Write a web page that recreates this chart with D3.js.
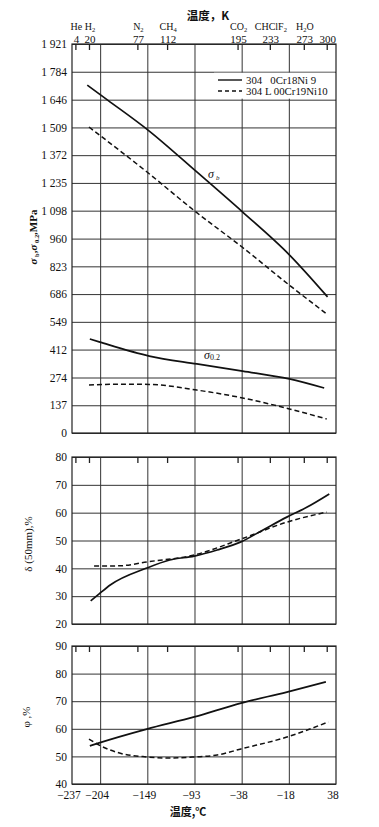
<!DOCTYPE html>
<html>
<head>
<meta charset="utf-8">
<script src="https://cdn.jsdelivr.net/npm/d3@7"></script>
<style>
  body { margin: 0; background: #fff; }
  svg text { font-family: "Liberation Serif", "DejaVu Serif", serif; fill: #111; }
  svg text.cjk { font-family: "Noto Sans CJK SC", sans-serif; }
</style>
</head>
<body>
<div class="chart"></div>
<script>
// temperatures stored in kelvin, the chart's x axis is linear in temperature
var kelvinTicks = [4, 20, 77, 112, 195, 233, 273, 300];
var gasNames = [["He", ""], ["H", "2"], ["N", "2"], ["CH", "4"], ["CO", "2"], ["CHClF", "2"], ["H", "2", "O"], null];

// bottom grid in °F (labels as printed)
var gridF = [-459.67, -400, -300, -200, -100, 0, 100];
var gridLabels = ["\u2212237", "\u2212204", "\u2212149", "\u221293", "\u221238", "\u221218", "38"];

var strengthTicks = [0, 137, 274, 412, 549, 686, 823, 960, 1098, 1235, 1372, 1509, 1646, 1784, 1921];
var elongTicks = [20, 30, 40, 50, 60, 70, 80];
var reductTicks = [40, 50, 60, 70, 80, 90];

// sigma_b
var sbK_304 = [18, 42, 91, 147, 201, 256, 301];
var sb_304 = [1718, 1644, 1491, 1289, 1091, 880, 672];
var sbK_304L = [20, 88, 147, 201, 256, 300];
var sb_304L = [1511, 1290, 1088, 916, 730, 588];
// sigma_0.2
var s02K_304 = [21, 32, 91, 147, 201, 256, 297];
var s02_304 = [464, 450, 380, 341, 306, 267, 222];
var s02K_304L = [20, 56, 91, 147, 201, 256, 300];
var s02_304L = [237, 241, 240, 212, 173, 119, 69];
// delta (50mm)
var dK_304 = [22, 32, 45, 88, 115, 144, 171, 199, 225, 253, 277, 303];
var d_304 = [28.3, 30.8, 34, 40.1, 43, 44.4, 46.6, 49.5, 53.8, 58.4, 62, 66.7];
var dK_304L = [26, 56, 88, 144, 199, 253, 300];
var d_304L = [40.8, 40.9, 42.3, 44.8, 50.5, 56.6, 60.2];
// phi
var pK_304 = [21, 32, 88, 144, 199, 253, 299];
var p_304 = [53.8, 54.9, 59.9, 64.3, 69.3, 73.3, 77];
var pK_304L = [20, 32, 56, 88, 115, 144, 171, 199, 253, 302];
var p_304L = [56.3, 54.1, 51.2, 49.8, 49.4, 49.8, 50.5, 52.7, 57, 62.5];

var width = 379, height = 827;
var left = 72, right = 336;

function fToK(f) { return (f + 459.67) * 5 / 9; }

var x = d3.scaleLinear()
  .domain([fToK(gridF[0]), fToK(gridF[gridF.length - 1])])
  .range([left, right]);

var panels = [
  {top: 44, bottom: 433, domain: [0, 1921], ticks: strengthTicks,
   series: [[sbK_304, sb_304, false], [sbK_304L, sb_304L, true], [s02K_304, s02_304, false], [s02K_304L, s02_304L, true]]},
  {top: 457, bottom: 624, domain: [20, 80], ticks: elongTicks,
   series: [[dK_304, d_304, false], [dK_304L, d_304L, true]]},
  {top: 646, bottom: 784, domain: [40, 90], ticks: reductTicks,
   series: [[pK_304, p_304, false], [pK_304L, p_304L, true]]}
];

var svg = d3.select(".chart").append("svg")
  .attr("width", width)
  .attr("height", height);

var fmt = function(d) {
  return d >= 1000 ? String(d).slice(0, 1) + " " + String(d).slice(1) : String(d);
};

panels.forEach(function(p, i) {
  var y = d3.scaleLinear().domain(p.domain).range([p.bottom, p.top]);
  p.y = y;
  var h = p.bottom - p.top;
  var g = svg.append("g");

  // horizontal grid + labels
  var gy = g.append("g")
    .attr("transform", "translate(" + left + ",0)")
    .call(d3.axisLeft(y).tickValues(p.ticks).tickSize(-(right - left)).tickPadding(5).tickFormat(fmt));
  gy.attr("font-family", null);
  gy.select(".domain").remove();
  gy.selectAll(".tick line").attr("stroke", "#333").attr("stroke-width", 1);
  gy.selectAll(".tick text").attr("font-size", 11.5).attr("fill", "#111");

  // vertical grid
  var gx = g.append("g")
    .attr("transform", "translate(0," + p.bottom + ")")
    .call(d3.axisBottom(x).tickValues(gridF.slice(1, -1).map(fToK)).tickSize(-h).tickFormat(""));
  gx.select(".domain").remove();
  gx.selectAll(".tick line").attr("stroke", "#333").attr("stroke-width", 1);

  // kelvin ticks hanging from the top edge
  var gk = g.append("g")
    .attr("transform", "translate(0," + p.top + ")")
    .call(d3.axisBottom(x).tickValues(kelvinTicks).tickSize(6).tickFormat(""));
  gk.select(".domain").remove();
  gk.selectAll(".tick line").attr("stroke", "#222").attr("stroke-width", 1.3);

  // frame
  g.append("rect")
    .attr("x", left).attr("y", p.top)
    .attr("width", right - left).attr("height", h)
    .attr("fill", "none").attr("stroke", "#222").attr("stroke-width", 1.2);
});

// legend box (covers grid)
var legend = svg.append("g");
legend.append("rect")
  .attr("x", 214).attr("y", panels[0].y(1784) + 1)
  .attr("width", right - 215).attr("height", panels[0].y(1646) - panels[0].y(1784) - 2)
  .attr("fill", "#fff");
[["304   0Cr18Ni 9", false], ["304 L 00Cr19Ni10", true]].forEach(function(d, i) {
  var ly = 80 + i * 11;
  legend.append("line")
    .attr("x1", 218).attr("x2", 242).attr("y1", ly).attr("y2", ly)
    .attr("stroke", "#111").attr("stroke-width", 1.4)
    .attr("stroke-dasharray", d[1] ? "4,3" : null);
  legend.append("text")
    .attr("x", 246).attr("y", ly + 4)
    .attr("font-size", 10.8)
    .style("white-space", "pre")
    .text(d[0]);
});

// curves
var line = d3.line()
  .curve(d3.curveMonotoneX)
  .x(function(d) { return x(d[0]); });

panels.forEach(function(p) {
  line.y(function(d) { return p.y(d[1]); });
  p.series.forEach(function(s) {
    var pts = s[0].map(function(k, j) { return [k, s[1][j]]; });
    svg.append("path")
      .attr("d", line(pts))
      .attr("fill", "none")
      .attr("stroke", "#111")
      .attr("stroke-width", s[2] ? 1.5 : 1.7)
      .attr("stroke-dasharray", s[2] ? "5,3" : null);
  });
});

// curve annotations
var sb = svg.append("text").attr("x", 208).attr("y", 178).attr("font-size", 12).attr("font-style", "italic");
sb.append("tspan").text("σ");
sb.append("tspan").attr("font-size", 7).attr("dy", 2).attr("dx", 2).text("b");
var s02 = svg.append("text").attr("x", 204).attr("y", 359).attr("font-size", 12).attr("font-style", "italic");
s02.append("tspan").text("σ");
s02.append("tspan").attr("font-size", 8).attr("font-style", "normal").attr("dy", 1).text("0.2");

// top kelvin labels
var topG = svg.append("g");
kelvinTicks.forEach(function(k, i) {
  topG.append("text")
    .attr("x", x(k) + 1).attr("y", 43)
    .attr("text-anchor", "middle")
    .attr("font-size", 11)
    .text(k);
  var gas = gasNames[i];
  if (gas) {
    var t = topG.append("text")
      .attr("x", x(k) + 1).attr("y", 30)
      .attr("text-anchor", "middle")
      .attr("font-size", 10);
    t.append("tspan").text(gas[0]);
    if (gas[1]) t.append("tspan").attr("font-size", 6.5).attr("dy", 1.5).text(gas[1]);
    if (gas[2]) t.append("tspan").attr("dy", -1.5).text(gas[2]);
  }
});
svg.append("text")
  .attr("class", "cjk")
  .attr("x", 208).attr("y", 20)
  .attr("text-anchor", "middle")
  .attr("font-size", 11.5)
  .attr("font-weight", "bold")
  .text("温度，K");

// bottom °C labels
gridF.forEach(function(f, i) {
  svg.append("text")
    .attr("x", x(fToK(f)) - 3).attr("y", 799)
    .attr("text-anchor", "middle")
    .attr("font-size", 11.5)
    .text(gridLabels[i]);
});
svg.append("text")
  .attr("class", "cjk")
  .attr("x", 188).attr("y", 816)
  .attr("text-anchor", "middle")
  .attr("font-size", 11)
  .attr("font-weight", "bold")
  .text("温度,℃");

// y axis titles
var t1 = svg.append("text")
  .attr("transform", "translate(37,237) rotate(-90)")
  .attr("text-anchor", "middle")
  .attr("font-size", 11)
  .attr("font-weight", "bold");
t1.append("tspan").attr("font-style", "italic").text("σ");
t1.append("tspan").attr("font-size", 6.5).attr("dy", 2).text(" b");
t1.append("tspan").attr("dy", -2).text(",");
t1.append("tspan").attr("font-style", "italic").text("σ");
t1.append("tspan").attr("font-size", 6.5).attr("dy", 2).text(" 0.2");
t1.append("tspan").attr("dy", -2).text(",MPa");

svg.append("text")
  .attr("transform", "translate(32,544) rotate(-90)")
  .attr("text-anchor", "middle")
  .attr("font-size", 11)
  .text("δ (50mm),%");

svg.append("text")
  .attr("transform", "translate(30,717) rotate(-90)")
  .attr("text-anchor", "middle")
  .attr("font-size", 11)
  .text("φ ,%");
</script>
</body>
</html>
